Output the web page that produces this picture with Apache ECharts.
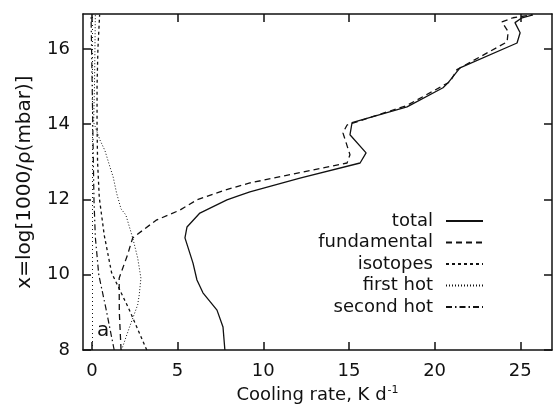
<!DOCTYPE html>
<html>
<head>
<meta charset="utf-8">
<script src="https://cdn.jsdelivr.net/npm/echarts@6/dist/echarts.min.js"></script>
<style>
  html, body { margin: 0; padding: 0; background: #fff; }
  #chart { width: 553px; height: 410px; }
</style>
</head>
<body>
<div id="chart"></div>
<script>
// ---- data ----
const seriesNames = ['total', 'fundamental', 'isotopes', 'first hot', 'second hot'];
const xTicks = [0, 5, 10, 15, 20, 25];
const yTicks = [8, 10, 12, 14, 16];

const totalRate   = [7.76, 7.65, 7.3, 6.48, 6.13, 5.9, 5.43, 5.55, 6.3, 7.88, 8.5, 9.22, 12.14, 15.65, 16.0, 15.06, 15.18, 18.39, 20.49, 20.78, 21.48, 24.81, 24.99, 24.69, 25.1, 25.74];
const totalHeight = [8.0, 8.61, 9.06, 9.52, 9.86, 10.31, 10.98, 11.27, 11.64, 11.99, 12.09, 12.2, 12.57, 12.97, 13.24, 13.72, 14.04, 14.46, 14.97, 15.1, 15.5, 16.16, 16.43, 16.7, 16.83, 16.91];

const fundRate   = [1.7, 1.6, 1.59, 2.08, 2.38, 3.75, 5.14, 6.13, 7.7, 9.22, 14.89, 15.06, 14.65, 14.89, 18.39, 20.9, 21.3, 24.23, 24.29, 23.93, 24.58, 25.69];
const fundHeight = [8.0, 9.0, 9.91, 10.53, 10.98, 11.45, 11.72, 11.99, 12.24, 12.44, 12.97, 13.19, 13.77, 13.98, 14.5, 15.13, 15.45, 16.19, 16.46, 16.72, 16.83, 16.91];

const isoRate   = [3.2, 2.15, 1.15, 0.72, 0.43, 0.33, 0.3, 0.3, 0.35, 0.45];
const isoHeight = [8.0, 9.1, 10.05, 11.05, 12.05, 13.0, 14.0, 15.0, 16.0, 16.91];

const hot1Rate   = [1.7, 1.79, 2.18, 2.67, 2.76, 2.86, 2.67, 2.38, 1.98, 1.7, 1.44, 1.24, 1.05, 0.76, 0.47, 0.1, 0.15, 0.2];
const hot1Height = [8.0, 8.08, 8.59, 9.2, 9.46, 9.91, 10.45, 10.98, 11.59, 11.75, 12.17, 12.6, 12.87, 13.3, 13.58, 14.05, 15.0, 16.91];

const hot2Rate   = [1.3, 0.82, 0.4, 0.2, 0.12, 0.05, -0.05];
const hot2Height = [8.0, 9.1, 10.0, 11.0, 12.0, 14.0, 16.91];

// ---- helpers ----
function pairs(xs, ys) { return xs.map((v, i) => [v, ys[i]]); }

const INK = '#111';
const FONT = 'DejaVu Sans';

const chart = echarts.init(document.getElementById('chart'), null, { renderer: 'canvas' });

const axisCommon = {
  axisLine: { show: true, onZero: false, lineStyle: { color: INK, width: 1.5 } },
  splitLine: { show: false }
};

const option = {
  backgroundColor: '#fff',
  animation: false,
  title: {
    text: 'a', left: 92, top: 316,
    textStyle: { fontFamily: FONT, fontSize: 20, fontWeight: 'normal', color: INK }
  },
  grid: { left: 83, right: 1, top: 14, bottom: 60, containLabel: false },
  legend: {
    orient: 'vertical', right: 64, top: 206, align: 'right',
    itemWidth: 37, itemHeight: 10, itemGap: 1.5,
    data: seriesNames,
    itemStyle: { opacity: 0, borderWidth: 0 },
    textStyle: { fontFamily: FONT, fontSize: 18, color: INK, lineHeight: 20, padding: [0, 8, 0, 0] }
  },
  xAxis: [
    Object.assign({}, axisCommon, {
      type: 'value', position: 'bottom', min: -0.52, max: 26.85,
      axisTick: { show: true, inside: true, length: 8, customValues: xTicks, lineStyle: { color: INK, width: 1.5 } },
      axisLabel: { show: true, customValues: xTicks, margin: 12, fontFamily: FONT, fontSize: 18, color: INK },
      name: 'Cooling rate, K d{sup|-1}',
      nameLocation: 'middle', nameGap: 34,
      nameTextStyle: {
        fontFamily: FONT, fontSize: 18, color: INK,
        rich: { sup: { fontFamily: FONT, fontSize: 11, color: INK, verticalAlign: 'top', padding: [0, 0, 10, 1] } }
      }
    }),
    Object.assign({}, axisCommon, {
      type: 'value', position: 'top', min: -0.52, max: 26.85,
      axisTick: { show: true, inside: true, length: 8, customValues: xTicks, lineStyle: { color: INK, width: 1.5 } },
      axisLabel: { show: false }
    })
  ],
  yAxis: [
    Object.assign({}, axisCommon, {
      type: 'value', position: 'left', min: 8, max: 16.93, interval: 2,
      axisTick: { show: true, inside: true, length: 8, customValues: yTicks, lineStyle: { color: INK, width: 1.5 } },
      axisLabel: { show: true, customValues: yTicks, margin: 13, fontFamily: FONT, fontSize: 18, color: INK },
      name: 'x=log[1000/ρ(mbar)]',
      nameLocation: 'middle', nameGap: 48, nameRotate: 90,
      nameTextStyle: { fontFamily: FONT, fontSize: 20, color: INK }
    }),
    Object.assign({}, axisCommon, {
      type: 'value', position: 'right', min: 8, max: 16.93, interval: 2,
      axisTick: { show: true, inside: true, length: 8, customValues: yTicks, lineStyle: { color: INK, width: 1.5 } },
      axisLabel: { show: false }
    })
  ],
  series: [
    {
      name: 'total', type: 'line', symbol: 'none', xAxisIndex: 0, yAxisIndex: 0,
      data: pairs(totalRate, totalHeight),
      lineStyle: { color: INK, width: 1.3, type: 'solid' }, itemStyle: { color: INK },
      markLine: {
        silent: true, symbol: 'none', label: { show: false },
        lineStyle: { color: INK, width: 1, type: [1, 3] },
        data: [{ xAxis: 0 }]
      }
    },
    {
      name: 'fundamental', type: 'line', symbol: 'none',
      data: pairs(fundRate, fundHeight),
      lineStyle: { color: INK, width: 1.3, type: [6, 4] }, itemStyle: { color: INK }
    },
    {
      name: 'isotopes', type: 'line', symbol: 'none',
      data: pairs(isoRate, isoHeight),
      lineStyle: { color: INK, width: 1.3, type: [3, 3] }, itemStyle: { color: INK }
    },
    {
      name: 'first hot', type: 'line', symbol: 'none',
      data: pairs(hot1Rate, hot1Height),
      lineStyle: { color: INK, width: 1, type: [1, 2] }, itemStyle: { color: INK }
    },
    {
      name: 'second hot', type: 'line', symbol: 'none',
      data: pairs(hot2Rate, hot2Height),
      lineStyle: { color: INK, width: 1.2, type: [6, 3, 1.5, 3] }, itemStyle: { color: INK }
    }
  ]
};

chart.setOption(option);
</script>
</body>
</html>
